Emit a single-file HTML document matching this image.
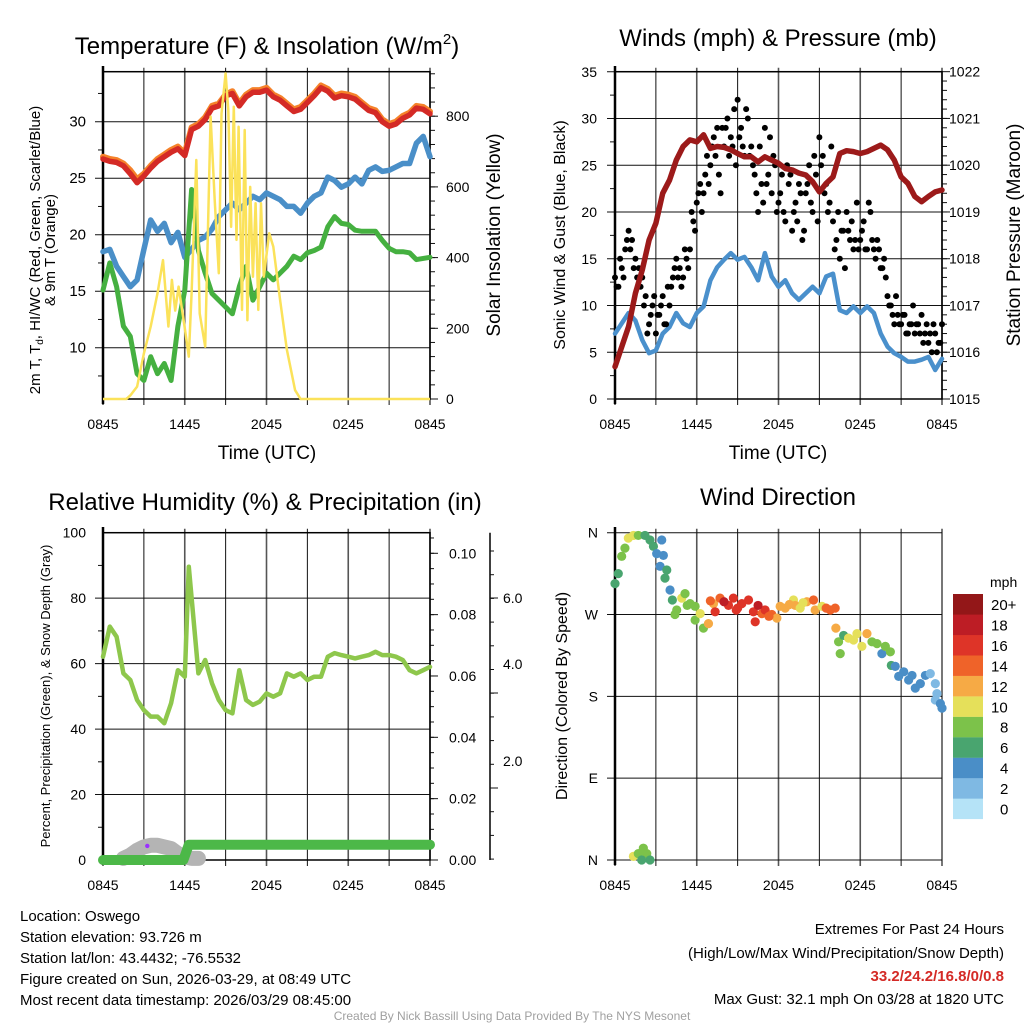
<!DOCTYPE html>
<html><head><meta charset="utf-8">
<style>
html,body{margin:0;padding:0;background:#fff;}
svg{display:block;font-family:"Liberation Sans",sans-serif;}
</style></head>
<body>
<svg id="chart" width="1024" height="1024" viewBox="0 0 1024 1024" xmlns="http://www.w3.org/2000/svg">
<rect width="1024" height="1024" fill="#fff"/>
<text x="267" y="54" font-size="24" text-anchor="middle">Temperature (F) &amp; Insolation (W/m<tspan font-size="15" dy="-10">2</tspan><tspan dy="10">)</tspan></text>
<text x="778" y="46" font-size="24" text-anchor="middle">Winds (mph) &amp; Pressure (mb)</text>
<text x="265" y="510" font-size="24" text-anchor="middle">Relative Humidity (%) &amp; Precipitation (in)</text>
<text x="778" y="505" font-size="24" text-anchor="middle">Wind Direction</text>

<text transform="translate(40,250) rotate(-90)" font-size="15" text-anchor="middle">2m T, T<tspan font-size="10" dy="3">d</tspan><tspan dy="-3">, HI/WC (Red, Green, Scarlet/Blue)</tspan></text>
<text transform="translate(55,250) rotate(-90)" font-size="15" text-anchor="middle">&amp; 9m T (Orange)</text>
<text transform="translate(500,235) rotate(-90)" font-size="19" text-anchor="middle">Solar Insolation (Yellow)</text>
<text x="267" y="459" font-size="19" text-anchor="middle">Time (UTC)</text>
<text x="778" y="459" font-size="19" text-anchor="middle">Time (UTC)</text>
<text transform="translate(565,235) rotate(-90)" font-size="16" text-anchor="middle">Sonic Wind &amp; Gust (Blue, Black)</text>
<text transform="translate(1020,235) rotate(-90)" font-size="19" text-anchor="middle">Station Pressure (Maroon)</text>
<text transform="translate(50,696) rotate(-90)" font-size="13" text-anchor="middle">Percent, Precipitation (Green), &amp; Snow Depth (Gray)</text>
<text transform="translate(567,696) rotate(-90)" font-size="16" text-anchor="middle">Direction (Colored By Speed)</text>

<g font-size="15">
<text x="20" y="921">Location: Oswego</text>
<text x="20" y="942">Station elevation: 93.726 m</text>
<text x="20" y="963">Station lat/lon: 43.4432; -76.5532</text>
<text x="20" y="984">Figure created on Sun, 2026-03-29, at 08:49 UTC</text>
<text x="20" y="1005">Most recent data timestamp: 2026/03/29 08:45:00</text>
</g>
<g font-size="15" text-anchor="end">
<text x="1004" y="934">Extremes For Past 24 Hours</text>
<text x="1004" y="958">(High/Low/Max Wind/Precipitation/Snow Depth)</text>
<text x="1004" y="981" fill="#d42a26" font-weight="bold">33.2/24.2/16.8/0/0.8</text>
<text x="1004" y="1004">Max Gust: 32.1 mph On 03/28 at 1820 UTC</text>
</g>
<text x="512" y="1020" font-size="12" fill="#a0a0a0" text-anchor="middle">Created By Nick Bassill Using Data Provided By The NYS Mesonet</text>
</svg>
<script>
// ---------- data ----------
const hours = [0,0.5,1,1.5,2,2.5,3,3.5,4,4.5,5,5.5,6,6.5,7,7.5,8,8.5,9,9.5,10,10.5,11,11.5,12,12.5,13,13.5,14,14.5,15,15.5,16,16.5,17,17.5,18,18.5,19,19.5,20,20.5,21,21.5,22,22.5,23,23.5,24];
const xTickLabels = ["0845","1445","2045","0245","0845"];
const tempT = [26.7,26.5,26.4,26.1,25.4,24.6,25.2,25.9,26.5,26.9,27.3,27.6,27.0,29.3,29.6,30.2,31.2,31.4,32.3,32.5,31.4,32.2,32.6,32.6,32.8,32.2,31.9,31.4,30.9,31.1,31.7,32.3,33.0,32.7,32.1,32.3,32.2,32.0,31.5,31.0,30.8,30.0,29.6,29.8,30.3,30.6,31.2,31.1,30.7];
const temp9m = [26.9,26.7,26.6,26.3,25.7,24.9,25.4,26.1,26.7,27.1,27.5,27.8,27.2,29.5,29.8,30.4,31.4,31.6,32.4,32.7,31.6,32.4,32.8,32.8,33.0,32.4,32.1,31.6,31.1,31.3,31.9,32.5,33.2,32.9,32.3,32.5,32.4,32.2,31.7,31.2,31.0,30.2,29.8,30.0,30.5,30.8,31.4,31.3,30.9];
const dewT = [18.5,18.7,17.2,16.3,15.4,16.0,18.7,21.3,20.3,21.0,19.3,20.2,18.0,18.7,19.5,19.8,20.5,21.6,22.2,22.8,22.2,22.8,23.4,23.1,23.7,23.4,23.1,22.5,22.5,21.9,22.8,23.4,23.7,25.1,24.8,24.2,24.5,25.1,24.5,25.7,26.0,25.6,25.7,26.0,26.3,26.3,28.1,28.7,26.9];
const windChill = [15.1,17.5,15.4,11.9,11.0,7.7,7.1,9.2,7.7,8.6,7.1,11.9,15.1,24.0,18.6,16.6,14.8,14.2,13.6,13.0,15.4,17.2,14.2,15.4,16.6,16.0,16.6,17.2,18.1,17.8,18.4,18.6,18.9,20.7,21.6,21.0,20.9,20.4,20.3,20.3,20.3,19.5,18.8,18.5,18.5,18.4,17.8,17.9,18.0];
const solarT = [0,1.7,2.0,2.5,3.0,3.5,4.0,4.4,4.8,5.06,5.3,5.55,6.0,6.3,6.5,6.85,7.1,7.5,7.9,8.2,8.5,8.7,9.0,9.2,9.4,9.6,9.8,9.95,10.2,10.4,10.6,10.8,11.0,11.2,11.4,11.6,11.8,12.2,12.5,13.0,13.5,13.8,14.1,14.5,24];
const solarV = [0,0,10,35,129,205,299,393,205,337,250,318,200,120,300,676,242,148,799,563,356,808,921,818,487,827,450,770,252,761,223,600,346,554,252,554,346,469,431,280,139,82,25,0,0];
const tempTicks = [10,15,20,25,30];
const solarTicks = [0,200,400,600,800];

const pressure = [1015.69,1016.12,1016.55,1017.26,1017.76,1018.40,1018.76,1019.40,1019.68,1020.11,1020.40,1020.54,1020.50,1020.65,1020.36,1020.40,1020.38,1020.33,1020.25,1020.18,1020.18,1020.07,1020.18,1020.11,1020.04,1019.93,1019.90,1019.83,1019.79,1019.65,1019.43,1019.61,1019.75,1020.25,1020.31,1020.29,1020.25,1020.29,1020.36,1020.43,1020.33,1020.11,1019.75,1019.61,1019.33,1019.22,1019.33,1019.43,1019.47];
const wind = [7.0,8.1,9.2,8.4,6.3,4.9,5.2,7.0,7.7,9.2,8.1,7.7,9.2,9.9,12.7,14.1,14.9,15.6,14.9,15.2,14.1,12.7,15.6,13.1,12.0,12.7,11.3,10.6,11.3,12.0,11.3,13.1,13.4,9.5,9.2,9.9,9.2,9.9,9.2,7.0,5.6,4.9,4.5,4.0,4.0,4.2,4.5,3.1,4.3];
const gustA = [13,12,14,16,18,17,15,14,13,11,8,10,7,9,11,8,10,13,15,14,13,15,16,19,21,23,22,26,25,28,29,22,27,30,28,31,32,29,26,30,27,24,20,23,29,24,22,25,21,24,19,23,18,21,23,17,22,25,20,24,28,26,23,21,19,17,15,18,20,17,16,21,17,19,16,20,16,17,14,15,11,10,8,9,8,9,7,8,7,8,9,7,6,5,7,6,8];
const gustB = [12,15,13,17,16,14,13,12,10,7,9,11,9,10,8,12,12,14,13,12,16,14,20,18,22,20,24,23,27,26,24,29,29,26,27,25,28,27,31,26,25,22,27,21,23,28,26,20,22,20,25,24,20,19,22,18,23,21,26,19,25,22,20,27,16,20,18,14,18,19,17,16,18,16,21,17,15,16,14,13,10,9,11,8,9,7,8,10,8,7,6,8,7,8,5,6];
const windTicks = [0,5,10,15,20,25,30,35];
const pressTicks = [1015,1016,1017,1018,1019,1020,1021,1022];

const rh = [62.1,71.3,68.2,57.0,55.0,48.9,45.8,43.8,43.8,41.8,47.9,58.0,56.0,89.6,57.0,61.1,54.0,48.9,45.8,44.8,58.0,48.9,47.4,48.4,50.9,49.9,50.9,57.0,56.0,57.0,55.0,56.0,56.0,62.1,63.2,62.6,62.1,61.6,62.1,62.6,63.6,62.6,62.6,62.1,61.1,58.0,57.0,58.0,59.0];
const rhT = [0,0.5,1,1.5,2,2.5,3,3.5,4,4.5,5,5.5,6,6.3,7,7.5,8,8.5,9,9.5,10,10.5,11,11.5,12,12.5,13,13.5,14,14.5,15,15.5,16,16.5,17,17.5,18,18.5,19,19.5,20,20.5,21,21.5,22,22.5,23,23.5,24];
const precipT = [0,5.9,6.3,24];
const precipV = [0,0,0.005,0.005];
const snowT = [1.5,2,2.5,3,3.5,4,4.5,5,5.5,6,6.5,7];
const snowV = [0.5,1.5,3,4,4.5,4.5,4,3.5,2,1,0.5,0.5];
const rhTicks = [0,20,40,60,80,100];
const precipTicks = [0,0.02,0.04,0.06,0.08,0.10];
const snowTickLabels = ["6.0","4.0","2.0"];

const dirT = [0,0.24,0.49,0.73,0.98,1.35,1.71,2.2,2.57,2.82,3.06,3.43,3.55,3.31,3.8,3.67,4.04,4.21,4.53,4.9,5.14,5.51,5.88,5.88,6.25,6.49,6.86,7.23,7.35,7.71,8.33,8.69,9.31,9.8,10.16,10.29,10.78,11.02,11.51,11.88,12.12,12.49,13.1,13.23,13.59,14.08,14.57,14.69,15.19,15.8,16.16,16.21,16.41,16.53,16.78,17.14,17.51,17.76,18.12,18.49,18.86,19.23,19.59,19.84,20.21,20.28,20.57,20.82,21.19,21.55,21.8,22.04,22.41,22.78,23.14,23.51,23.63,23.51,23.88,24,1.35,1.71,2.08,2.33,2.57,1.96,8.0,9.0,10.5,11.3,12.8,13.8,15.5,4.4,5.3,7.0,8.9];
const dirV = [304,315,334,343,354,357,357,357,352,345,337,352,335,323,319,310,297,286,275,288,293,282,279,264,271,255,260,282,273,288,280,288,282,286,273,262,271,275,270,266,279,277,286,280,277,284,286,275,279,275,277,255,240,227,247,244,242,249,235,249,240,238,227,235,229,214,213,202,207,198,203,189,194,203,205,194,183,176,172,167,4,7,13,7,0,0,284,277,280,268,281,283,277,270,280,285,275];
const dirS = [6,6,8,8,10,10,8,6,6,6,4,4,4,4,6,6,4,6,8,10,8,8,8,8,10,8,12,12,16,14,16,16,16,16,16,16,14,16,14,12,12,12,10,12,10,12,14,12,10,14,14,12,8,8,6,10,10,10,10,12,8,8,4,8,8,6,4,4,4,4,4,4,4,4,2,2,2,2,4,4,10,8,8,8,6,6,18,16,18,14,12,10,14,8,8,14,16];
const dirTickLabels = ["N","E","S","W","N"];
const speedBins = ["0","2","4","6","8","10","12","14","16","18","20+"];
const speedColors = ["#b5e3f7","#7fb9e3","#4a8ec7","#49a56f","#7cc24a","#e5e05a","#f6aa45","#ef6329","#de3428","#bd1d25","#931718"];

// ---------- helpers ----------
const NS = "http://www.w3.org/2000/svg";
const svg = document.getElementById('chart');
function mk(tag, attrs, parent){
  const e = document.createElementNS(NS, tag);
  for (const k in attrs) e.setAttribute(k, attrs[k]);
  (parent || svg).appendChild(e);
  return e;
}
function poly(ts, vs, xf, yf){
  return ts.map((t,i)=> xf(t).toFixed(1)+','+yf(vs[i]).toFixed(1)).join(' ');
}
function speedColor(s){ let i = Math.min(10, Math.max(0, Math.floor(s/2))); return speedColors[i]; }

const xL = t => 103 + t*327/24;
const xR = t => 615 + t*327/24;
const yTemp = v => 121.7 + (30 - v)*11.3;
const ySol = w => 399 - w*0.3535;
const yWind = v => 399 - v*9.35;
const yPres = p => 399 - (p - 1015)*46.76;
const yRH = v => 860 - v*3.273;
const yPrec = v => 860 - v*3067;
const yDir = d => 860 - d*0.9092;

function frame(name, x0, x1, y0, y1){
  const g = mk('g', {});
  
  
  for (let k=0;k<=8;k++){
    const x = x0 + k*(x1-x0)/8;
    const l = mk('line',{x1:x,y1:y0-4,x2:x,y2:y1+6,stroke:(k%2? '#111':'#555'),'stroke-width':(k%2?1:1.6)},g);
    
    
  }
  for (let k=0;k<5;k++){
    const lab = mk('text',{x:x0+k*(x1-x0)/4,y:y1+30,'font-size':14,'text-anchor':'middle'},g);
    
    
    lab.textContent = xTickLabels[k];
  }
  return g;
}
function hgrid(g, x0, x1, y){
  const l = mk('line',{x1:x0-8,y1:y,x2:x1,y2:y,stroke:'#111','stroke-width':1},g);
  
  
}
function ylab(g, x, y, txt, anchor, size){
  const t = mk('text',{x:x,y:y+5,'font-size':size||14,'text-anchor':anchor},g);
  
  
  t.textContent = txt;
}
function tick(g,x1,y,len){
  mk('line',{x1:x1,y1:y,x2:x1+len,y2:y,stroke:'#111','stroke-width':1},g);
}

// ---------- panel 1 ----------
(function(){
  const g = frame('temperature-plot', 103, 430, 71.7, 399);
  tempTicks.forEach(v=>{ hgrid(g,103,430,yTemp(v)); ylab(g,86,yTemp(v),String(v),'end',15); });
  for (let v=7.5; v<=34; v+=5) tick(g,103,yTemp(v),-5);
  solarTicks.forEach(w=>{ tick(g,430,ySol(w),8); ylab(g,446,ySol(w),String(w),'start',14); });
  for (let w=40; w<=920; w+=40) tick(g,430,ySol(w),5);
  mk('rect',{x:103,y:71.7,width:327,height:327.3,fill:'none',stroke:'#000','stroke-width':1.5},g);
  mk('line',{x1:103,y1:66,x2:103,y2:404,stroke:'#000','stroke-width':2.5},g);
  const o = mk('polyline',{points:poly(hours,temp9m,xL,yTemp),fill:'none',stroke:'#f5822a','stroke-width':6,'stroke-linejoin':'round','stroke-linecap':'round'});
  
  
  const r = mk('polyline',{points:poly(hours,tempT,xL,yTemp),fill:'none',stroke:'#d42a26','stroke-width':5.5,'stroke-linejoin':'round','stroke-linecap':'round'});
  
  
  const b = mk('polyline',{points:poly(hours,dewT,xL,yTemp),fill:'none',stroke:'#4a8fc8','stroke-width':5.5,'stroke-linejoin':'round','stroke-linecap':'round'});
  
  
  const gr = mk('polyline',{points:poly(hours,windChill,xL,yTemp),fill:'none',stroke:'#45b040','stroke-width':5,'stroke-linejoin':'round','stroke-linecap':'round'});
  
  
  const y = mk('polyline',{points:poly(solarT,solarV,xL,ySol),fill:'none',stroke:'#fbe25a','stroke-width':2.5,'stroke-linejoin':'round'});
  
  
})();

// ---------- panel 2 ----------
(function(){
  const g = frame('wind-plot', 615, 942, 71.7, 399);
  windTicks.forEach(v=>{ hgrid(g,615,942,yWind(v)); ylab(g,597,yWind(v),String(v),'end',14); });
  for (let v=2.5; v<35; v+=5) tick(g,615,yWind(v),-5);
  pressTicks.forEach(p=>{ tick(g,942,yPres(p),8); ylab(g,949,yPres(p),String(p),'start',14); });
  for (let p=1015; p<1022; p+=0.2) tick(g,942,yPres(p),5);
  mk('rect',{x:615,y:71.7,width:327,height:327.3,fill:'none',stroke:'#000','stroke-width':1.5},g);
  mk('line',{x1:615,y1:66,x2:615,y2:404,stroke:'#000','stroke-width':2.5},g);
  const b = mk('polyline',{points:poly(hours,wind,xR,yWind),fill:'none',stroke:'#4a90cc','stroke-width':4.5,'stroke-linejoin':'round','stroke-linecap':'round'});
  
  
  const gg = mk('g',{fill:'#000'});
  
  
  gustA.forEach((v,i)=>{
    const c = mk('circle',{cx:xR(i*0.25),cy:yWind(v),r:3},gg);
    
    
  });
  gustB.forEach((v,i)=>{
    const c = mk('circle',{cx:xR(i*0.25+0.125),cy:yWind(v),r:3},gg);
    
    
  });
  const m = mk('polyline',{points:poly(hours,pressure,xR,yPres),fill:'none',stroke:'#9c1a1a','stroke-width':5.5,'stroke-linejoin':'round','stroke-linecap':'round'});
  
  
})();

// ---------- panel 3 ----------
(function(){
  const g = frame('humidity-plot', 103, 430, 532.7, 860);
  rhTicks.forEach(v=>{ if(v>0&&v<100) hgrid(g,103,430,yRH(v)); ylab(g,86,yRH(v),String(v),'end',14); });
  for (let v=10; v<100; v+=20) tick(g,103,yRH(v),-5);
  precipTicks.forEach(p=>{ tick(g,430,yPrec(p),8); ylab(g,449,yPrec(p),p.toFixed(2),'start',14); });
  for (let p=0.005; p<0.106; p+=0.005) tick(g,430,yPrec(p),4);
  mk('rect',{x:103,y:532.7,width:327,height:327.3,fill:'none',stroke:'#000','stroke-width':1.5},g);
  mk('line',{x1:103,y1:527,x2:103,y2:865,stroke:'#000','stroke-width':2.5},g);
  const ax = mk('g',{},g);
  
  
  mk('line',{x1:490,y1:532.7,x2:490,y2:860,stroke:'#000','stroke-width':1.5},ax);
  [598,693,788].forEach(y=>tick(ax,490,y,8));
  for (let y=551; y<860; y+=23.7) tick(ax,490,y,4);
  [598,664,761].forEach((y,i)=>ylab(ax,503,y,snowTickLabels[i],'start',14));
  const s = mk('polyline',{points:poly(snowT,snowV,xL,yRH),fill:'none',stroke:'#b4b4b4','stroke-width':15,'stroke-linejoin':'round','stroke-linecap':'round'});
  
  
  const p = mk('polyline',{points:poly(precipT,precipV,xL,yPrec),fill:'none',stroke:'#4cb848','stroke-width':10,'stroke-linejoin':'round','stroke-linecap':'round'});
  
  
  const d = mk('circle',{cx:xL(3.25),cy:yRH(4.3),r:2.2,fill:'#9b30ff'});
  
  
  const r = mk('polyline',{points:poly(rhT,rh,xL,yRH),fill:'none',stroke:'#8ec74c','stroke-width':4.5,'stroke-linejoin':'round','stroke-linecap':'round'});
  
  
})();

// ---------- panel 4 ----------
(function(){
  const g = frame('direction-plot', 615, 942, 532.7, 860);
  [0,90,180,270,360].forEach((d,i)=>{ hgrid(g,615,942,yDir(d)); ylab(g,598,yDir(d),dirTickLabels[i],'end',14); });
  mk('line',{x1:615,y1:527,x2:615,y2:865,stroke:'#000','stroke-width':2.5},g);
  const pts = mk('g',{});
  
  
  dirT.forEach((t,i)=>{
    const c = mk('circle',{cx:xR(t),cy:yDir(dirV[i]),r:4.6,fill:speedColor(dirS[i])},pts);
    
    
  });
  const cb = mk('g',{});
  
  
  const unit = mk('text',{x:990,y:587,'font-size':14},cb);
  
  
  unit.textContent = 'mph';
  speedBins.forEach((lab,i)=>{
    const yTop = 594 + (10-i)*20.45;
    const rct = mk('rect',{x:953,y:yTop,width:30,height:20.6,fill:speedColors[i]},cb);
    
    
    const tx = mk('text',{x:(lab.length>1?991:1000),y:yTop+16,'font-size':15},cb);
    
    
    tx.textContent = lab;
  });
})();
</script>
</body></html>
